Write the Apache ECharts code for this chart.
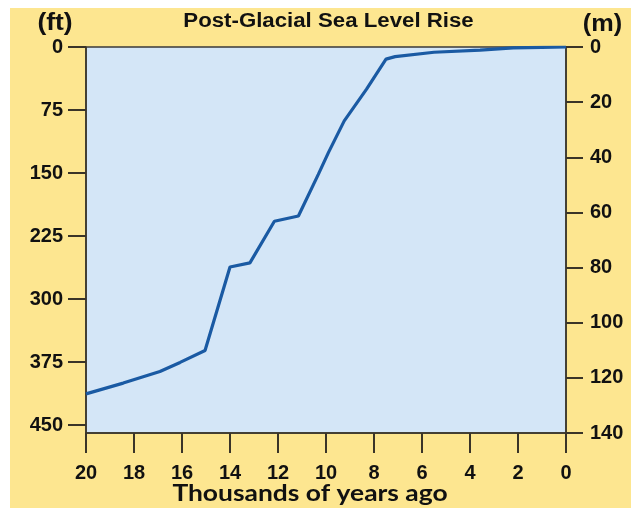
<!DOCTYPE html>
<html>
<head>
<meta charset="utf-8">
<script src="https://cdn.jsdelivr.net/npm/echarts@6/dist/echarts.min.js"></script>
<style>
html,body{margin:0;padding:0;background:#ffffff;}
#bg{position:absolute;left:10px;top:8px;right:0;bottom:0;background:#fde690;}
#chart{position:absolute;left:0;top:0;width:631px;height:508px;}
</style>
</head>
<body>
<div id="bg"></div>
<div id="chart"></div>
<script>
// Thousands of years ago
const yearsAgo = [20, 18.45, 16.92, 16.08, 15.04, 14.0, 13.17, 12.15, 11.15, 10.32, 9.9, 9.24, 8.31, 7.5, 7.12, 5.5, 3.58, 2.2, 1, 0];
// Sea level below present (m)
const seaLevelM = [125.8, 121.9, 117.7, 114.4, 110.1, 79.8, 78.3, 63.2, 61.3, 46.2, 38.3, 26.8, 15.3, 4.4, 3.5, 1.9, 1.1, 0.3, 0.1, 0];
// Tick labels
const ftTicks = [0, 75, 150, 225, 300, 375, 450];
const mTicks = [0, 20, 40, 60, 80, 100, 120, 140];
const xTicks = [20, 18, 16, 14, 12, 10, 8, 6, 4, 2, 0];

const M_MAX = 140;
const FT_PER_M = 3.28084;

const chart = echarts.init(document.getElementById('chart'), null, {renderer: 'canvas'});
const SANS = '"Liberation Sans", Arial, sans-serif';
const labelFont = {fontFamily: SANS, fontWeight: 'bold', fontSize: 20, color: '#111'};
const tickStyle = {color: '#3a3428', width: 2};
const lineStyle = {color: '#3a3428', width: 1.5};

chart.setOption({
  backgroundColor: 'transparent',
  animation: false,
  grid: {
    left: 86, right: 65, top: 47, bottom: 75,
    show: true, backgroundColor: '#d4e6f7', borderColor: '#3a3a3a', borderWidth: 1.5
  },
  xAxis: {
    type: 'value', min: 0, max: 20, interval: 2, inverse: true, position: 'bottom',
    axisLine: {show: true, onZero: false, lineStyle: lineStyle},
    axisTick: {show: true, inside: false, length: 20, lineStyle: tickStyle},
    splitLine: {show: false},
    axisLabel: Object.assign({margin: 30, customValues: xTicks}, labelFont)
  },
  yAxis: [
    {
      type: 'value', position: 'left', min: 0, max: M_MAX * FT_PER_M, inverse: true,
      axisLine: {show: true, onZero: false, lineStyle: lineStyle},
      axisTick: {show: true, inside: false, length: 18, lineStyle: tickStyle, customValues: ftTicks},
      splitLine: {show: false},
      axisLabel: Object.assign({margin: 23, customValues: ftTicks}, labelFont)
    },
    {
      type: 'value', position: 'right', min: 0, max: M_MAX, interval: 20, inverse: true,
      axisLine: {show: true, onZero: false, lineStyle: lineStyle},
      axisTick: {show: true, inside: false, length: 17, lineStyle: tickStyle},
      splitLine: {show: false},
      axisLabel: Object.assign({margin: 24, customValues: mTicks}, labelFont)
    }
  ],
  series: [{
    type: 'line', yAxisIndex: 1, showSymbol: false, symbol: 'none',
    lineStyle: {color: '#1a5aa3', width: 3.2},
    data: yearsAgo.map((x, i) => [x, seaLevelM[i]])
  }],
  graphic: [
    {type: 'text', x: 328.5, y: 22, scaleX: 1.14,
      style: {text: 'Post-Glacial Sea Level Rise', align: 'center', verticalAlign: 'middle', fontFamily: SANS, fontWeight: 'bold', fontSize: 19.5, fill: '#111'}},
    {type: 'text', x: 55, y: 24, scaleX: 1.15,
      style: {text: '(ft)', align: 'center', verticalAlign: 'middle', fontFamily: SANS, fontWeight: 'bold', fontSize: 23, fill: '#111'}},
    {type: 'text', x: 602.5, y: 25, scaleX: 1.1,
      style: {text: '(m)', align: 'center', verticalAlign: 'middle', fontFamily: SANS, fontWeight: 'bold', fontSize: 23, fill: '#111'}},
    {type: 'text', x: 310, y: 494, scaleX: 1.2,
      style: {text: 'Thousands of years ago', align: 'center', verticalAlign: 'middle', fontFamily: 'Lato, "Open Sans", sans-serif', fontWeight: 'bold', fontSize: 22, fill: '#111'}}
  ]
});
</script>
</body>
</html>
